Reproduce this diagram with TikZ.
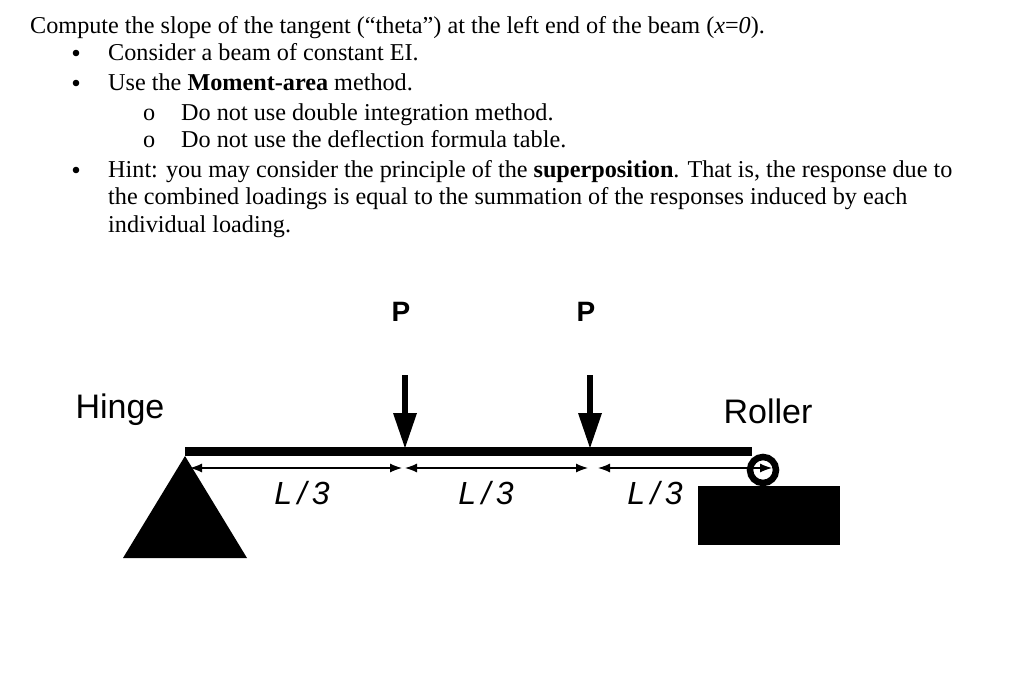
\documentclass[tikz,border=0pt]{standalone}
\usepackage{fontspec}
\setmainfont{Liberation Serif}
\newfontfamily\sans{Liberation Sans}
\usetikzlibrary{arrows.meta}
\begin{document}
\begin{tikzpicture}[x=1pt,y=-1pt,
  txt/.style={anchor=base west,inner sep=0,font=\fontsize{24.2}{28}\selectfont},
  lab/.style={inner sep=0,font=\sans\fontsize{34}{38}\selectfont},
  dim/.style={line width=1.2pt,{Latex[length=12pt,width=9pt]}-{Latex[length=12pt,width=9pt]}}]
\useasboundingbox (0,0) rectangle (1024,684);
\node[txt] (t1) at (30,34) {Compute the slope of the tangent (``theta'') at the left end of the beam (\textit{x}=\textit{0}).};
\foreach \y/\s [count=\i] in {61/{Consider a beam of constant EI.},91/{Use the \textbf{Moment-area} method.},178/{Hint: you may consider the principle of the \textbf{superposition}. That is, the response due to},205/{the combined loadings is equal to the summation of the responses induced by each},233/{individual loading.}}{
  \node[txt] (b\i) at (108,\y) {\s};}
\foreach \y in {61,91,178}{\fill (76,\y-8) circle (3.3);}
\node[txt] (s1) at (181,121) {Do not use double integration method.};
\node[txt] (s2) at (181,148) {Do not use the deflection formula table.};
\node[txt] at (143,121) {o};
\node[txt] at (143,148) {o};
% beam
\fill (185,447) rectangle (752,456);
\coordinate (A) at (185,456);
\fill (A) -- (247,558) -- (123,558) -- cycle;
% roller
\fill (698,486) rectangle (840,545);
\draw[line width=6.5pt,fill=white] (763,470) circle (13);
% loads
\foreach \x/\n in {405/1,590/2}{
  \coordinate (p\n) at (\x,448);
  \fill (\x-3,375) rectangle (\x+3,415);
  \fill (\x-12,413) -- (\x+12,413) -- (p\n) -- cycle;
  \node[inner sep=0,font=\sans\bfseries\fontsize{28}{32}\selectfont] (P\n) at (\x-4,312) {P};
}
\coordinate (d1) at (190,468);
\coordinate (d2) at (402,468);
\coordinate (d3) at (588,468);
\coordinate (d4) at (772,468);
\draw[dim] (d1) -- (d2);
\draw[dim] ([xshift=3pt]d2) -- (d3);
\draw[dim] ([xshift=10pt]d3) -- (d4);
\foreach \x/\n in {302/1,486/2,655/3}
  \node[inner sep=0,font=\sans\itshape\fontsize{32}{36}\selectfont] (L\n) at (\x,493) {L\,/\,3};
\node[lab] (hinge) at (120,410) {Hinge};
\node[lab] (roller) at (768,411) {Roller};
\end{tikzpicture}
\end{document}
